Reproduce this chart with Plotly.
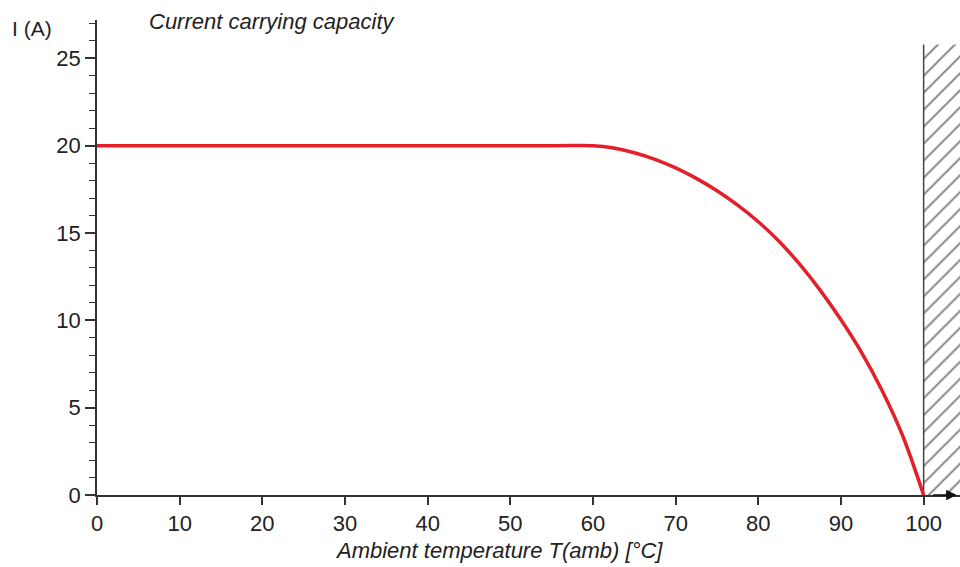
import plotly.graph_objects as go

# Data
temp_c = [0, 55, 60, 62.5, 65, 67.5, 70, 72.5, 75, 77.5, 80, 82.5, 85, 87.5, 90, 92.5, 95, 97.5, 100]
current_a = [20, 20, 20, 19.87, 19.6, 19.22, 18.73, 18.13, 17.42, 16.6, 15.65, 14.53, 13.22, 11.72, 10.03, 8.15, 5.95, 3.35, 0]

x_ticks = [0, 10, 20, 30, 40, 50, 60, 70, 80, 90, 100]
y_ticks = [0, 5, 10, 15, 20, 25]

limit_temp = 100
hatch_top = 25.8
x_max = 104.4
y_max = 27.2

FONT = "Liberation Sans Narrow, Arial Narrow, Liberation Sans, Arial, sans-serif"
AXIS_COLOR = "#333333"
TEXT_COLOR = "#222222"

fig = go.Figure()

# Hatched forbidden region beyond the limit temperature
fig.add_trace(go.Scatter(
    x=[limit_temp, x_max, x_max, limit_temp, limit_temp],
    y=[0, 0, hatch_top, hatch_top, 0],
    mode="lines", fill="toself",
    fillcolor="rgba(255,255,255,0)",
    fillpattern=dict(shape="/", fgcolor="#000000", bgcolor="white", size=12, solidity=0.16),
    line=dict(width=0), hoverinfo="skip", showlegend=False,
))
fig.add_trace(go.Scatter(
    x=[limit_temp, limit_temp], y=[0, hatch_top], mode="lines",
    line=dict(color="#444444", width=1.5), hoverinfo="skip", showlegend=False,
))

# Derating curve
fig.add_trace(go.Scatter(
    x=temp_c, y=current_a, mode="lines",
    line=dict(color="#e3202a", width=3.5, shape="spline", smoothing=0.9),
    showlegend=False, cliponaxis=False,
))

fig.update_layout(
    width=960, height=567,
    margin=dict(l=97, r=0, t=20, b=72),
    plot_bgcolor="white", paper_bgcolor="white",
    font=dict(family=FONT, size=22, color=TEXT_COLOR),
    xaxis=dict(
        range=[0, x_max], tickvals=x_ticks, showgrid=False, zeroline=False,
        showline=True, linecolor=AXIS_COLOR, linewidth=1.5,
        ticks="outside", ticklen=8, tickwidth=1.5, tickcolor=AXIS_COLOR,
        tickfont=dict(family=FONT, size=22, color=TEXT_COLOR),
    ),
    yaxis=dict(
        range=[0, y_max], tickvals=y_ticks, showgrid=False, zeroline=False,
        showline=True, linecolor=AXIS_COLOR, linewidth=1.5,
        ticks="outside", ticklen=10, tickwidth=1.5, tickcolor=AXIS_COLOR,
        minor=dict(dtick=1, ticks="outside", ticklen=6, tickwidth=1.2, tickcolor=AXIS_COLOR, showgrid=False),
        tickfont=dict(family=FONT, size=22, color=TEXT_COLOR),
    ),
    shapes=[
        # short extension of the x-axis line to the left of the origin
        dict(type="line", xref="paper", yref="y", x0=-0.0104, x1=0, y0=0, y1=0,
             line=dict(color=AXIS_COLOR, width=1.5)),
    ],
    annotations=[
        dict(text="<i>Current carrying capacity</i>", xref="paper", yref="paper",
             x=0.058, y=0.996, xanchor="left", yanchor="middle", showarrow=False,
             font=dict(family=FONT, size=22, color=TEXT_COLOR)),
        dict(text="I (A)", xref="paper", yref="paper",
             x=-0.101, y=0.983, xanchor="left", yanchor="middle", showarrow=False,
             font=dict(family=FONT, size=21, color=TEXT_COLOR)),
        dict(text="<i>Ambient temperature T(amb) [°C]</i>", xref="paper", yref="paper",
             x=0.466, y=-0.116, xanchor="center", yanchor="middle", showarrow=False,
             font=dict(family=FONT, size=22, color=TEXT_COLOR)),
        dict(x=104.0, y=0, ax=-25, ay=0, xref="x", yref="y", axref="pixel", ayref="pixel",
             text="", showarrow=True, arrowhead=2, arrowsize=1.4, arrowwidth=1.5,
             arrowcolor="#111111"),
    ],
)

fig.write_html("out.html", config={"displayModeBar": False},
               post_script="document.body.style.margin='0px';")
